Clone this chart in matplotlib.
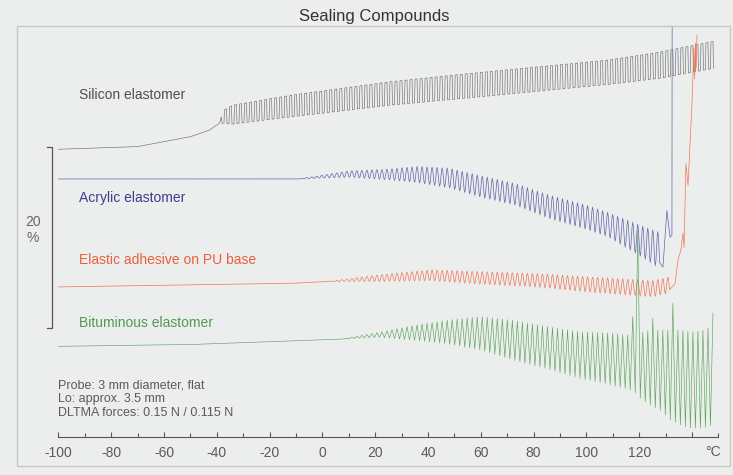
import numpy as np
import matplotlib
matplotlib.use("Agg")
import matplotlib.pyplot as plt

plt.rcParams['font.family'] = ['Liberation Sans', 'DejaVu Sans']

# DLTMA envelopes: temperature (°C) and upper / lower deformation (%)
cycle_deg = 1.9  # one load cycle, in °C of heating

sil_T = [-100, -70, -50, -43, -39, -37.5, -34, -12, 25.6, 55, 108, 128, 150]
sil_hi = [32.0, 32.3, 33.4, 34.1, 34.9, 36.3, 36.9, 38.0, 39.5, 40.4, 41.9, 42.8, 44.1]
sil_lo = [32.0, 32.3, 33.4, 34.1, 34.9, 34.9, 34.8, 35.6, 36.9, 37.7, 39.2, 39.9, 41.1]

acr_T = [-100, -9, 10, 25, 36, 48, 61, 73, 86, 100, 108, 120, 127.5]
acr_hi = [28.7, 28.7, 29.6, 29.8, 30.1, 29.9, 29.0, 28.2, 26.9, 25.8, 25.0, 23.6, 22.8]
acr_lo = [28.7, 28.7, 28.9, 28.6, 28.3, 27.7, 26.6, 25.8, 24.3, 23.1, 22.3, 20.2, 18.8]
acr_tail_T = [129.0, 130.5, 131.7, 132.4, 132.5]
acr_tail_y = [18.9, 25.2, 22.2, 22.5, 50.0]

ora_T = [-100, -12, 2, 20, 41, 61, 81, 102, 125, 131, 133]
ora_hi = [16.7, 17.1, 17.3, 18.0, 18.6, 18.4, 18.2, 17.8, 17.4, 17.8, 18.0]
ora_lo = [16.7, 17.1, 17.3, 17.3, 17.4, 17.0, 16.7, 16.1, 15.6, 16.0, 16.5]
ora_tail_T = [133.6, 134.7, 135.8, 136.6, 137.0, 137.7, 138.5, 139.2, 140.0,
              140.4, 140.7, 141.0, 141.3, 141.6, 141.9]
ora_tail_y = [17.1, 19.7, 20.8, 22.7, 21.1, 30.4, 28.0, 32.2, 37.1,
              40.8, 43.3, 39.8, 43.8, 41.0, 44.7]

grn_T = [-100, -50, 7, 22, 34, 47, 60, 72, 85, 98, 108, 117.5, 119, 120.5,
         124, 128, 132, 136, 140, 145, 150]
grn_hi = [10.1, 10.3, 10.9, 11.7, 12.4, 13.0, 13.4, 13.0, 12.3, 11.7, 11.6, 11.3, 11.5, 11.6,
          11.9, 11.9, 11.9, 11.9, 11.7, 11.9, 13.0]
grn_lo = [10.1, 10.3, 10.9, 11.1, 10.8, 10.4, 9.7, 8.6, 7.6, 6.5, 5.9, 5.2, 4.8, 4.3,
          3.6, 3.0, 1.9, 1.3, 1.0, 1.1, 1.6]
grn_spike_T = [118.4, 120.0, 124.5, 132.3, 149.5]
grn_spike_y = [13.4, 23.0, 13.2, 14.9, 13.8]

tick_vals = list(range(-100, 141, 20))
tick_labels = ['-100', '-80', '-60', '-40', '-20', '0', '20', '40', '60', '80', '100', '120', '']

series_labels = ['Silicon elastomer', 'Acrylic elastomer', 'Elastic adhesive on PU base',
                 'Bituminous elastomer']
notes = ['Probe: 3 mm diameter, flat', 'Lo: approx. 3.5 mm', 'DLTMA forces: 0.15 N / 0.115 N']

SHAPES = {
    'square': ([0.0, 0.1, 0.5, 0.6], [0, 1, 1, 0]),
    'sine': (np.arange(8) / 8, 0.5 - 0.5 * np.cos(2 * np.pi * np.arange(8) / 8)),
    'tri': ([0.0, 0.5], [0, 1]),
}


def wave(T, hi, lo, t_end, shape):
    frac, lvl = SHAPES[shape]
    n = int((t_end - T[0]) / cycle_deg)
    t = (T[0] + cycle_deg * (np.arange(n)[:, None] + np.asarray(frac)[None, :])).ravel()
    lv = np.tile(lvl, n)
    y_lo = np.interp(t, T, lo)
    y_hi = np.interp(t, T, hi)
    return t, y_lo + lv * (y_hi - y_lo)


bg = '#eceeed'
txt_gray = '#5a5a5a'
fig = plt.figure(figsize=(7.33, 4.75), dpi=100, facecolor=bg)
ax = fig.add_axes([17 / 733, 1 - 466 / 475, 713 / 733, 440 / 475])
ax.set_facecolor(bg)
ax.set_xlim(-115.7, 154.4)
ax.set_ylim(-3.2, 45.7)

# curves
t, y = wave(sil_T, sil_hi, sil_lo, 150, 'square')
ax.plot(t, y, color='#6e6e6e', lw=0.45)

t, y = wave(acr_T, acr_hi, acr_lo, 128.5, 'sine')
ax.plot(np.r_[t, acr_tail_T], np.r_[y, acr_tail_y], color='#6464aa', lw=0.5)

t, y = wave(ora_T, ora_hi, ora_lo, 133.3, 'sine')
ax.plot(np.r_[t, ora_tail_T], np.r_[y, ora_tail_y], color='#f07656', lw=0.5)

t, y = wave(grn_T, grn_hi, grn_lo, 150, 'tri')
peaks = np.arange(1, len(t), 2)
for st, sy in zip(grn_spike_T, grn_spike_y):
    i = peaks[np.argmin(np.abs(t[peaks] - st))]
    y[i] = sy
ax.plot(t, y, color='#5ea45e', lw=0.45)

# labels
label_colors = ['#4e4e4e', '#3d3d8f', '#e8603c', '#4f9a4f']
label_y = [38.0, 26.6, 19.7, 12.7]
for txt, c, yy in zip(series_labels, label_colors, label_y):
    ax.text(-92.2, yy, txt, color=c, fontsize=10, va='center', ha='left')

for i, txt in enumerate(notes):
    ax.text(-100, 5.8 - 1.55 * i, txt, color=txt_gray, fontsize=9, va='center', ha='left')

# 20 % scale bracket
ax.plot([-104.4, -102.5, -102.5, -104.4], [32.2, 32.2, 12.1, 12.1], color='#555555', lw=0.9)
ax.text(-109.6, 23.9, '20', color='#666666', fontsize=10, ha='center', va='center')
ax.text(-109.6, 22.1, '%', color='#666666', fontsize=10, ha='center', va='center')

# x axis
for s in ['left', 'right', 'top']:
    ax.spines[s].set_visible(False)
ax.spines['bottom'].set_position(('data', 0))
ax.spines['bottom'].set_bounds(-100, 150)
ax.spines['bottom'].set_color('#555555')
ax.spines['bottom'].set_linewidth(0.8)
ax.set_yticks([])
ax.set_xticks(tick_vals)
ax.set_xticklabels(tick_labels)
ax.set_xticks(list(range(-90, 151, 20)), minor=True)
ax.tick_params(axis='x', which='both', direction='in', color='#555555', width=0.8,
               labelsize=10, labelcolor=txt_gray, pad=6)
ax.tick_params(axis='x', which='major', length=3.5)
ax.tick_params(axis='x', which='minor', length=3)
ax.text(148, -1.65, '°C', color=txt_gray, fontsize=10, ha='center', va='center')

# frame and title
fig.patches.append(plt.Rectangle((17 / 733, 1 - 466 / 475), 713 / 733, 440 / 475,
                                 transform=fig.transFigure, fill=False,
                                 edgecolor='#c6c8c7', lw=1.0))
fig.text(374 / 733, 1 - 16 / 475, 'Sealing Compounds', fontsize=12, color='#333333',
         ha='center', va='center')

fig.savefig('out.png', dpi=100, facecolor=bg)
